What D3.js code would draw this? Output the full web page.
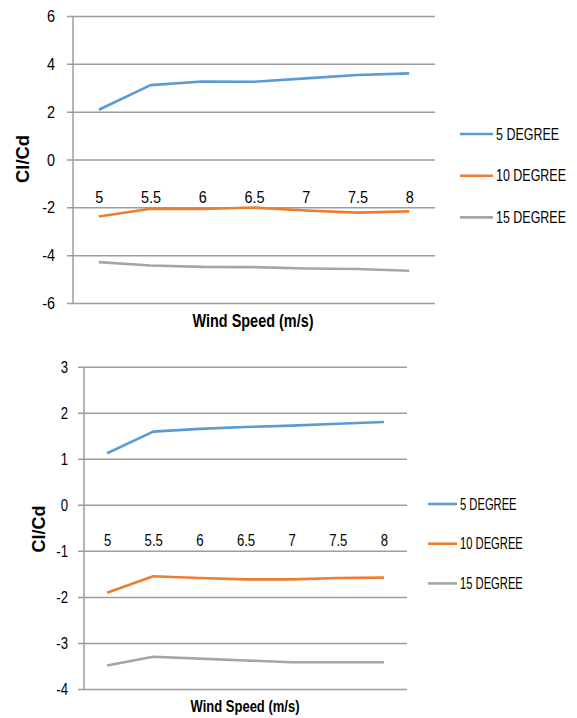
<!DOCTYPE html>
<html>
<head>
<meta charset="utf-8">
<script src="https://cdn.jsdelivr.net/npm/d3@7"></script>
<style>
  html, body { margin: 0; padding: 0; background: #fff; }
  svg { display: block; }
  text { font-family: "Liberation Sans", Arial, sans-serif; fill: #000; }
</style>
</head>
<body>
<svg id="chart" width="577" height="718"></svg>
<script>
// ---- data ----
const windSpeeds = ["5", "5.5", "6", "6.5", "7", "7.5", "8"];
const seriesNames = ["5 DEGREE", "10 DEGREE", "15 DEGREE"];
const seriesColors = ["#5B9BD5", "#ED7D31", "#A5A5A5"];

// chart 1
const top5deg  = [2.08, 3.11, 3.26, 3.25, 3.39, 3.53, 3.60];
const top10deg = [-2.38, -2.06, -2.07, -2.01, -2.13, -2.22, -2.17];
const top15deg = [-4.29, -4.43, -4.49, -4.50, -4.56, -4.58, -4.65];
const topYTicks = [-6, -4, -2, 0, 2, 4, 6];

// chart 2
const bot5deg  = [1.12, 1.59, 1.65, 1.69, 1.72, 1.76, 1.80];
const bot10deg = [-1.91, -1.55, -1.59, -1.62, -1.62, -1.59, -1.58];
const bot15deg = [-3.49, -3.30, -3.34, -3.38, -3.42, -3.42, -3.42];
const botYTicks = [-4, -3, -2, -1, 0, 1, 2, 3];

const yTitle = "Cl/Cd";
const xTitle = "Wind Speed (m/s)";

const svg = d3.select("#chart");

// horizontally condense text (reference uses a narrow font)
function squeeze(sel, factor) {
  sel.each(function () {
    const w = this.getComputedTextLength();
    d3.select(this).attr("textLength", (w * factor).toFixed(2)).attr("lengthAdjust", "spacingAndGlyphs");
  });
}

function drawPanel(cfg, series, yTicks) {
  const g = svg.append("g");
  const x = d3.scalePoint().domain(windSpeeds).range([cfg.left, cfg.right]).padding(0.5);
  const y = d3.scaleLinear().domain([yTicks[0], yTicks[yTicks.length - 1]]).range([cfg.bottom, cfg.top]);

  // gridlines + ticks via axis
  const yAxis = d3.axisLeft(y).tickValues(yTicks).tickSize(-(cfg.right - cfg.left)).tickSizeOuter(0).tickFormat(d => String(d));
  const ya = g.append("g").attr("transform", `translate(${cfg.left},0)`).call(yAxis);
  ya.select(".domain").remove();
  ya.selectAll(".tick line").attr("x1", -cfg.tickLen).attr("stroke", "#9d9d9d").attr("stroke-width", 1.5);
  const yl = ya.selectAll(".tick text").attr("x", -cfg.labelGap).attr("dy", "0.35em")
    .style("font-size", cfg.tickFont + "px").attr("fill", "#000");
  squeeze(yl, cfg.tickSq);
  // vertical axis line
  g.append("line").attr("x1", cfg.left).attr("x2", cfg.left).attr("y1", cfg.top).attr("y2", cfg.bottom)
    .attr("stroke", "#9d9d9d").attr("stroke-width", 1.5);

  // category labels
  const xAxis = d3.axisBottom(x).tickSize(0);
  const xa = g.append("g").attr("transform", `translate(0,${cfg.catY})`).call(xAxis);
  xa.select(".domain").remove();
  const xl = xa.selectAll(".tick text").attr("y", 0).attr("dy", "0.35em").style("font-size", cfg.tickFont + "px").attr("fill", "#000");
  squeeze(xl, cfg.tickSq);

  // lines
  const line = d3.line().x((d, i) => x(windSpeeds[i])).y(d => y(d));
  series.forEach((vals, k) => {
    g.append("path").datum(vals).attr("d", line).attr("fill", "none")
      .attr("stroke", seriesColors[k]).attr("stroke-width", 2.6).attr("stroke-linejoin", "round");
  });

  // titles
  g.append("text").attr("transform", `translate(${cfg.yTitleX},${cfg.yTitleY}) rotate(-90)`)
    .attr("text-anchor", "middle").attr("dy", "0.35em").style("font-size", cfg.yTitleFont + "px")
    .style("font-weight", "bold").attr("textLength", cfg.yTitleLen).attr("lengthAdjust", "spacingAndGlyphs").text(yTitle);
  g.append("text").attr("x", cfg.xTitleX).attr("y", cfg.xTitleY).attr("dy", "0.35em")
    .attr("text-anchor", "middle").style("font-size", cfg.xTitleFont + "px").style("font-weight", "bold")
    .attr("textLength", cfg.xTitleLen).attr("lengthAdjust", "spacingAndGlyphs").text(xTitle);

  // legend
  seriesNames.forEach((name, k) => {
    const ly = cfg.legY + k * cfg.legStep;
    g.append("line").attr("x1", cfg.legX).attr("x2", cfg.legX + cfg.legLen).attr("y1", ly).attr("y2", ly)
      .attr("stroke", seriesColors[k]).attr("stroke-width", 2.6);
    g.append("text")
      .attr("transform", `translate(${cfg.legX + cfg.legLen + 3},${ly}) scale(${cfg.legSq},1)`)
      .attr("dy", "0.35em").style("font-size", cfg.legFont + "px").text(name);
  });
}

drawPanel({
  left: 73, right: 435, top: 16, bottom: 303, tickLen: 6, labelGap: 18,
  catY: 197, tickFont: 16, tickSq: 0.9,
  yTitleFont: 18, yTitleLen: 48, yTitleX: 23, yTitleY: 159,
  xTitleFont: 18, xTitleLen: 121, xTitleX: 253, xTitleY: 321,
  legX: 460, legLen: 33, legY: 134, legStep: 41.7, legFont: 16, legSq: 0.78
}, [top5deg, top10deg, top15deg], topYTicks);

drawPanel({
  left: 84, right: 407, top: 366.7, bottom: 689, tickLen: 6, labelGap: 16,
  catY: 540.7, tickFont: 16, tickSq: 0.82,
  yTitleFont: 18, yTitleLen: 47, yTitleX: 39, yTitleY: 529,
  xTitleFont: 17, xTitleLen: 109, xTitleX: 245, xTitleY: 706,
  legX: 428, legLen: 29, legY: 504, legStep: 39.7, legFont: 16, legSq: 0.70
}, [bot5deg, bot10deg, bot15deg], botYTicks);
</script>
</body>
</html>
